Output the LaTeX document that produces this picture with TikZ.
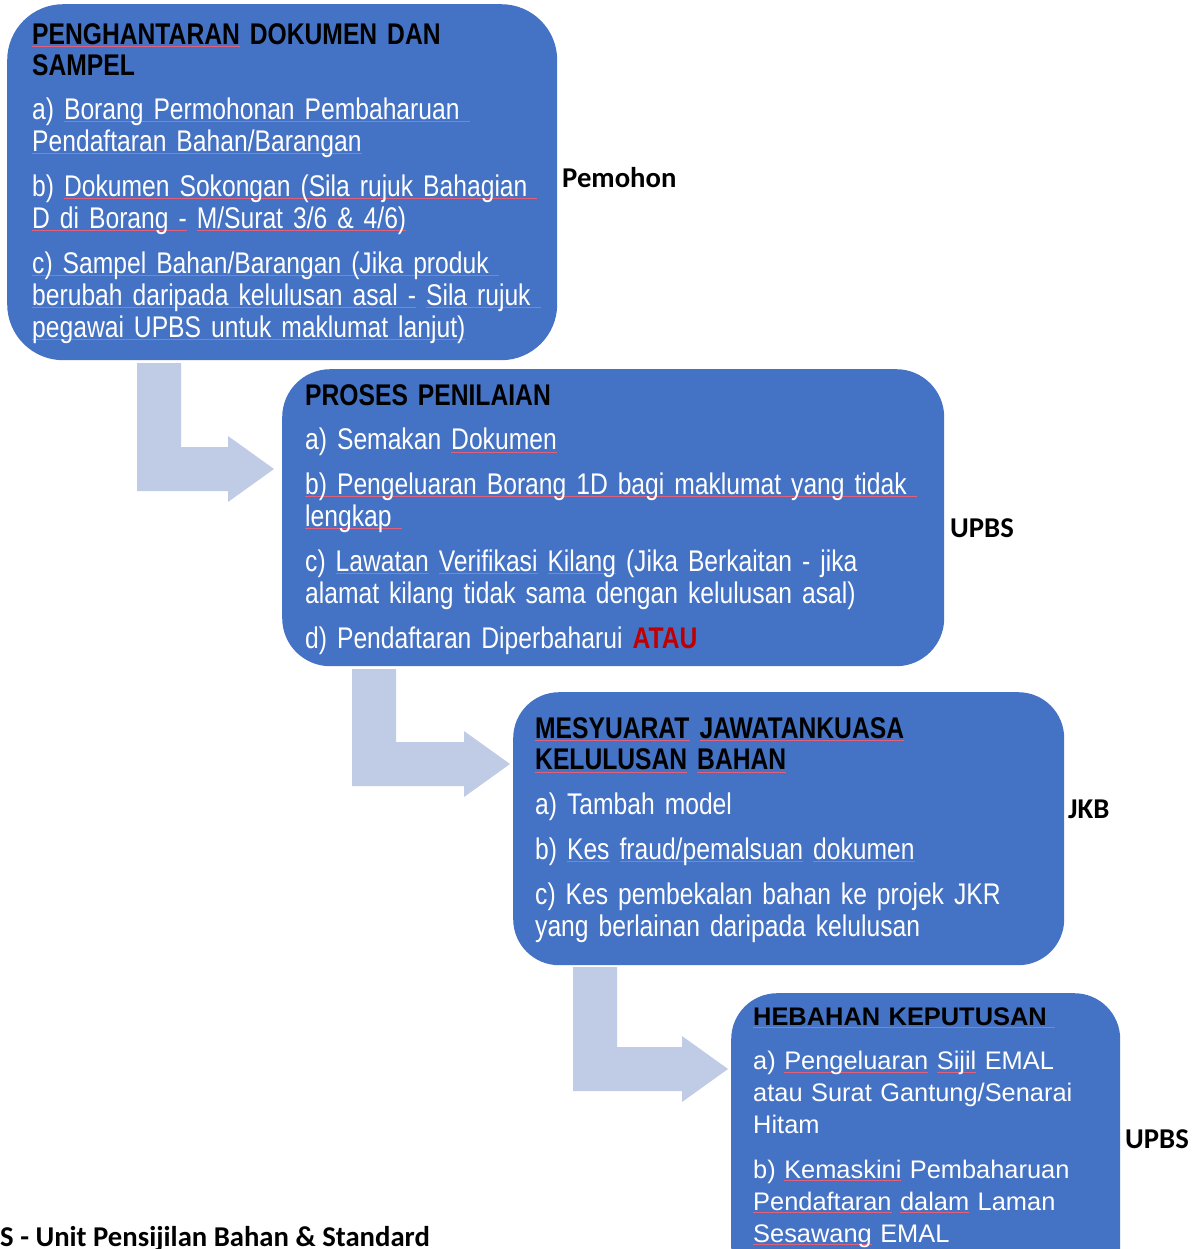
\documentclass[tikz,border=0pt]{standalone}
\usepackage{fontspec}
\setmainfont{Liberation Sans}
\newfontfamily\narrowsf[FakeStretch=0.825]{Liberation Sans}
\newfontfamily\labelsf{Carlito}
\usetikzlibrary{positioning}

\definecolor{boxblue}{HTML}{4472C4}
\definecolor{arrowblue}{RGB}{192,203,229}
\definecolor{squig}{RGB}{226,96,120}
\definecolor{ataured}{RGB}{192,0,0}

% spell-check style underline under a word or phrase
\newcommand\sq[1]{\leavevmode\setbox0\hbox{#1}\rlap{\color{squig}\rule[-2.5bp]{\wd0}{0.8bp}}\box0\relax}

\begin{document}
\begin{tikzpicture}[x=1bp, y=-1bp]
    % --- DEFINE STYLES ---
    % rounded blue card for each stage
    \tikzset{stagecard/.style={fill=boxblue, inner sep=0pt, anchor=north west, rounded corners=#1}}
    % text inside a card (narrow face)
    \tikzset{cardtext/.style={anchor=base west, inner sep=0pt, text width=#1, align=left, text=white,
        font=\narrowsf\fontsize{30}{32}\selectfont}}
    % who handles the stage
    \tikzset{who/.style={anchor=base west, inner sep=0pt, font=\labelsf\bfseries\fontsize{28.8}{34}\selectfont}}
    % light bent arrows
    \tikzset{flowarrow/.style={fill=arrowblue, draw=none}}

    \clip (0,0) rectangle (1197,1249);

    % Bent arrows between stages
    \foreach \ax/\ay/\ac/\at in {137/363/469/274, 352/669/764/510, 573/967/1069/728} {
        \fill[flowarrow] (\ax,\ay) -- (\ax+44,\ay) -- (\ax+44,\ac-22) -- (\at-46,\ac-22)
            -- (\at-46,\ac-33) -- (\at,\ac) -- (\at-46,\ac+33) -- (\at-46,\ac+22)
            -- (\ax,\ac+22) -- cycle;
    }

    % Stage cards
    \node[stagecard=56bp, minimum width=550bp, minimum height=356bp] (b1) at (7,4) {};
    \node[stagecard=48bp, minimum width=662bp, minimum height=297bp] (b2) at (282,369) {};
    \node[stagecard=46bp, minimum width=551bp, minimum height=273bp] (b3) at (513,692) {};
    \node[stagecard=46bp, minimum width=389bp, minimum height=300bp] (b4) at (731,993) {};

    % Card texts
    \node[cardtext=520bp] (t1) at (32,44) {%
        {\color{black}\bfseries \sq{PENGHANTARAN} DOKUMEN DAN\\SAMPEL}\\[12bp]
        a) \sq{Borang Permohonan Pembaharuan\ }\\
        \sq{Pendaftaran Bahan/Barangan}\\[13bp]
        b) \sq{Dokumen Sokongan (Sila rujuk Bahagian\ }\\
        \sq{D di Borang -} \sq{M/Surat 3/6 \& 4/6)}\\[13bp]
        \sq{c) Sampel Bahan/Barangan (Jika produk\ }\\
        \sq{berubah daripada kelulusan asal -} \sq{Sila rujuk\ }\\
        \sq{pegawai UPBS untuk maklumat lanjut)}};

    \node[cardtext=630bp] (t2) at (305,405) {%
        {\color{black}\bfseries PROSES PENILAIAN}\\[13bp]
        a) Semakan \sq{Dokumen}\\[13bp]
        \sq{b) Pengeluaran Borang 1D bagi maklumat yang tidak\ }\\
        \sq{lengkap\ }\\[13bp]
        c) \sq{Lawatan} \sq{Verifikasi} \sq{Kilang} (Jika Berkaitan - jika\\
        alamat kilang tidak sama dengan kelulusan asal)\\[13bp]
        d) Pendaftaran Diperbaharui {\color{ataured}\bfseries ATAU}};

    \node[cardtext=520bp] (t3) at (535,738) {%
        {\color{black}\bfseries \sq{MESYUARAT} \sq{JAWATANKUASA}\\\sq{KELULUSAN} \sq{BAHAN}}\\[13bp]
        a) Tambah model\\[13bp]
        b) \sq{Kes} \sq{fraud/pemalsuan} \sq{dokumen}\\[13bp]
        c) Kes pembekalan bahan ke projek JKR\\
        yang berlainan daripada kelulusan};

    \node[cardtext=360bp, font=\rmfamily\fontsize{25.5}{32}\selectfont] (t4) at (753,1025) {%
        {\color{black}\bfseries \sq{HEBAHAN KEPUTUSAN\ }}\\[13bp]
        a) \sq{Pengeluaran} \sq{Sijil} EMAL\\
        atau Surat Gantung/Senarai\\
        Hitam\\[13bp]
        b) \sq{Kemaskini} Pembaharuan\\
        \sq{Pendaftaran} \sq{dalam} Laman\\
        \sq{Sesawang} EMAL};

    % Who handles each stage
    \node[who] (w1) at (562,187) {Pemohon};
    \node[who] (w2) at (950,537) {UPBS};
    \node[who] (w3) at (1068,818) {JKB};
    \node[who] (w4) at (1125,1148) {UPBS};

    % Footnote (cut at the left edge)
    \node[who] (foot) at (0,1246) {S - Unit Pensijilan Bahan \& Standard};
\end{tikzpicture}
\end{document}
